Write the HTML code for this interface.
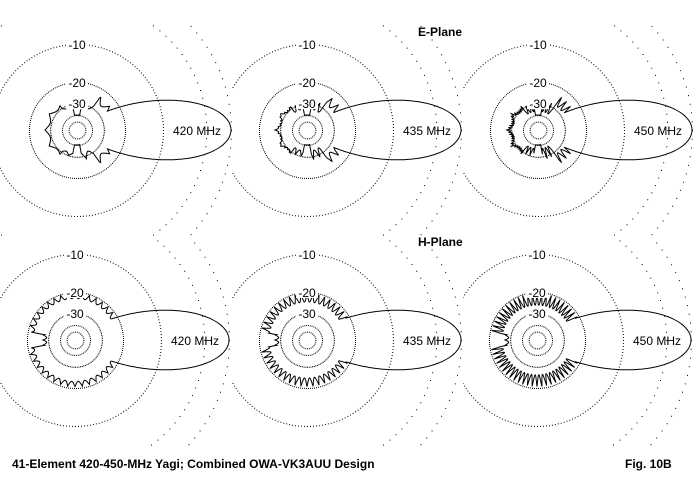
<!DOCTYPE html>
<html><head><meta charset="utf-8">
<style>
html,body{margin:0;padding:0;background:#fff;}
svg{display:block;}
text{font-family:"Liberation Sans",Arial,sans-serif;}
</style></head>
<body>
<svg id="s" width="700" height="480" viewBox="0 0 700 480" xmlns="http://www.w3.org/2000/svg">
<defs>
<clipPath id="c0"><rect x="0" y="24" width="232" height="212"/></clipPath>
<clipPath id="c1"><rect x="232" y="24" width="231" height="212"/></clipPath>
<clipPath id="c2"><rect x="463" y="24" width="237" height="212"/></clipPath>
<clipPath id="c3"><rect x="0" y="238" width="232" height="210"/></clipPath>
<clipPath id="c4"><rect x="232" y="238" width="231" height="210"/></clipPath>
<clipPath id="c5"><rect x="463" y="238" width="237" height="210"/></clipPath>
</defs>
<g id="plots"></g>
<text x="418" y="36" font-size="12" font-weight="bold">E-Plane</text>
<text x="418" y="246" font-size="12" font-weight="bold">H-Plane</text>
<text x="12" y="468" font-size="12" font-weight="bold">41-Element 420-450-MHz Yagi; Combined OWA-VK3AUU Design</text>
<text x="625" y="468" font-size="12" font-weight="bold">Fig. 10B</text>
</svg>
<script>
(function(){
var NS="http://www.w3.org/2000/svg";
var g=document.getElementById("plots");
var R=154;
function rad(db){return R*Math.pow(0.89,-db/2);}
var rings=[[0,110],[-3,100],[-10,180],[-20,150],[-30,100],[-40,50],[-50,28]];
var plots=[
 {cx:77,cy:130,f:"420 MHz",h:false,k:0},
 {cx:307,cy:130,f:"435 MHz",h:false,k:1},
 {cx:538,cy:130,f:"450 MHz",h:false,k:2},
 {cx:75,cy:340,f:"420 MHz",h:true,k:0},
 {cx:307,cy:340,f:"435 MHz",h:true,k:1},
 {cx:537,cy:340,f:"450 MHz",h:true,k:2}
];
function el(n,a,p){var e=document.createElementNS(NS,n);for(var k in a)e.setAttribute(k,a[k]);(p||g).appendChild(e);return e;}
function S(x){return Math.abs(Math.sin(x*Math.PI/180));}
function pat(th,p){
 var main=-3*Math.pow(th/11,2);
 var side;
 var nr=[10,14,20][p.k];
 if(!p.h){
  if(th<24){side=-17-4*S((th-18)*30);}
  else if(th<55){side=-23-(3+p.k)*S(th*nr);}
  else if(th<80){side=-28-(4+2*p.k)*S(th*nr);}
  else if(th<100){side=-40;}
  else if(th<125){side=-30-(2+2*p.k)*S(th*nr);}
  else {side=-27-2.5*S(th*6)-(p.k)*S(th*nr*2);}
 } else {
  if(th<24){side=-17-4*S((th-18)*30);}
  else if(th<170){side=-20.5-(2+1.5*p.k)*S(th*(nr+10));}
  else {side=-27-2*S(th*20);}
 }
 return Math.max(main,side);
}
plots.forEach(function(p,i){
 var grp=el("g",{"clip-path":"url(#c"+i+")"});
 rings.forEach(function(r){
  var rr=rad(r[0]),n=r[1];
  var d="";
  for(var j=0;j<n;j++){var a=j/n*2*Math.PI;var x=p.cx+rr*Math.cos(a),y=p.cy+rr*Math.sin(a);d+="M"+x.toFixed(1)+" "+y.toFixed(1)+"h1v1h-1z";}
  el("path",{d:d,fill:"#000"},grp);
 });
 var d="";
 for(var j=0;j<=1440;j++){
  var a=j/4; var th=a>180?360-a:a;
  var r=rad(pat(th,p));
  var x=p.cx+r*Math.cos(a*Math.PI/180),y=p.cy-r*Math.sin(a*Math.PI/180);
  d+=(j?"L":"M")+x.toFixed(1)+" "+y.toFixed(1);
 }
 el("path",{d:d,fill:"none",stroke:"#000","stroke-width":"1"},grp);
 [["-10",-10],["-20",-20],["-30",-30]].forEach(function(l){
  var y=p.cy-rad(l[1]);
  el("rect",{x:p.cx-11,y:y-6,width:22,height:12,fill:"#fff"},grp);
  var t=el("text",{x:p.cx,y:y+5,"font-size":"12","text-anchor":"middle"},grp);t.textContent=l[0];
 });
 var t=el("text",{x:p.cx+120,y:p.cy+5,"font-size":"12","text-anchor":"middle"},grp);t.textContent=p.f;
});
})();
</script>
</body></html>
